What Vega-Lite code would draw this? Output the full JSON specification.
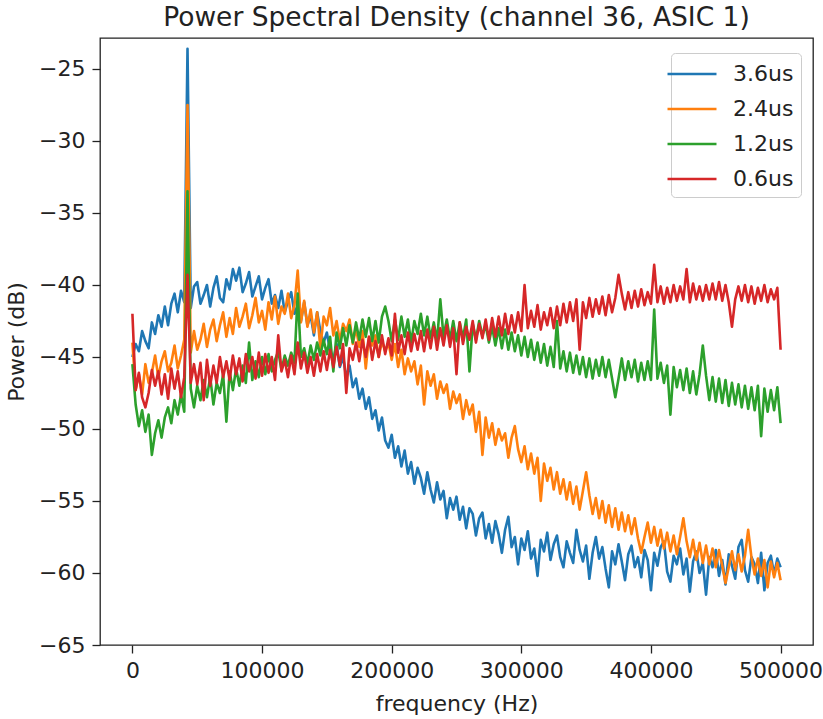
{
"$schema":"https://vega.github.io/schema/vega-lite/v6.json",
"width":713,"height":607,
"autosize":{"type":"none"},
"padding":{"left":100,"top":38,"right":10,"bottom":74},
"background":"white",
"config":{"font":"DejaVu Sans","view":{"stroke":"#222","strokeWidth":1.3}},
"title":{"text":"Power Spectral Density (channel 36, ASIC 1)","fontSize":26.5,"fontWeight":"normal","color":"#222","offset":7,"font":"DejaVu Sans"},
"datasets":{"psd":[
{"f":0,"a":-45.0,"b":-44.0,"c":-45.5,"d":-42.0},
{"f":2500,"a":-44.1,"b":-47.3,"c":-48.3,"d":-47.3},
{"f":5000,"a":-44.6,"b":-46.2,"c":-49.8,"d":-46.1},
{"f":7500,"a":-43.2,"b":-47.6,"c":-48.7,"d":-47.8},
{"f":10000,"a":-43.9,"b":-45.5,"c":-50.2,"d":-48.5},
{"f":12500,"a":-44.4,"b":-46.8,"c":-49.0,"d":-47.5},
{"f":15000,"a":-42.6,"b":-46.1,"c":-51.8,"d":-45.9},
{"f":17500,"a":-43.4,"b":-44.9,"c":-50.3,"d":-47.0},
{"f":20000,"a":-42.1,"b":-46.4,"c":-49.4,"d":-46.0},
{"f":22500,"a":-42.9,"b":-45.3,"c":-50.6,"d":-47.6},
{"f":25000,"a":-41.5,"b":-44.6,"c":-49.2,"d":-46.2},
{"f":27500,"a":-42.8,"b":-46.0,"c":-48.5,"d":-47.9},
{"f":30000,"a":-41.3,"b":-45.4,"c":-49.6,"d":-45.8},
{"f":32500,"a":-40.6,"b":-44.2,"c":-48.0,"d":-47.2},
{"f":35000,"a":-41.9,"b":-45.8,"c":-49.0,"d":-46.0},
{"f":37500,"a":-40.4,"b":-44.9,"c":-47.6,"d":-47.8},
{"f":40000,"a":-41.2,"b":-43.8,"c":-48.8,"d":-46.4},
{"f":42500,"a":-23.6,"b":-27.5,"c":-33.5,"d":-39.3},
{"f":45000,"a":-41.6,"b":-44.7,"c":-47.2,"d":-46.8},
{"f":47500,"a":-40.1,"b":-43.2,"c":-48.5,"d":-45.5},
{"f":50000,"a":-39.8,"b":-44.5,"c":-47.0,"d":-46.9},
{"f":52500,"a":-41.3,"b":-43.8,"c":-48.0,"d":-45.4},
{"f":55000,"a":-40.7,"b":-42.7,"c":-46.6,"d":-48.0},
{"f":57500,"a":-40.0,"b":-44.3,"c":-47.8,"d":-45.2},
{"f":60000,"a":-41.5,"b":-43.1,"c":-46.4,"d":-47.0},
{"f":62500,"a":-40.2,"b":-42.4,"c":-48.3,"d":-45.6},
{"f":65000,"a":-39.4,"b":-43.9,"c":-46.8,"d":-46.8},
{"f":67500,"a":-40.9,"b":-42.8,"c":-47.5,"d":-45.0},
{"f":70000,"a":-41.2,"b":-41.9,"c":-46.2,"d":-46.4},
{"f":72500,"a":-39.6,"b":-43.6,"c":-49.5,"d":-45.3},
{"f":75000,"a":-40.3,"b":-42.3,"c":-46.0,"d":-46.6},
{"f":77500,"a":-38.9,"b":-43.4,"c":-47.3,"d":-44.9},
{"f":80000,"a":-39.7,"b":-41.6,"c":-45.8,"d":-46.2},
{"f":82500,"a":-38.8,"b":-42.9,"c":-47.0,"d":-45.1},
{"f":85000,"a":-40.5,"b":-42.2,"c":-45.6,"d":-46.7},
{"f":87500,"a":-39.9,"b":-41.3,"c":-46.8,"d":-44.8},
{"f":90000,"a":-39.1,"b":-43.0,"c":-44.0,"d":-46.0},
{"f":92500,"a":-40.8,"b":-42.1,"c":-46.6,"d":-45.0},
{"f":95000,"a":-40.1,"b":-40.9,"c":-45.3,"d":-46.5},
{"f":97500,"a":-39.4,"b":-42.6,"c":-46.4,"d":-44.7},
{"f":100000,"a":-41.0,"b":-41.8,"c":-45.0,"d":-46.3},
{"f":102500,"a":-40.2,"b":-43.1,"c":-46.2,"d":-44.8},
{"f":105000,"a":-39.6,"b":-41.2,"c":-44.8,"d":-46.1},
{"f":107500,"a":-41.3,"b":-42.4,"c":-46.0,"d":-45.0},
{"f":110000,"a":-40.7,"b":-40.8,"c":-45.2,"d":-46.6},
{"f":112500,"a":-41.6,"b":-42.7,"c":-44.6,"d":-43.5},
{"f":115000,"a":-40.4,"b":-41.5,"c":-45.9,"d":-46.0},
{"f":117500,"a":-41.9,"b":-42.0,"c":-44.9,"d":-45.2},
{"f":120000,"a":-41.1,"b":-40.6,"c":-45.6,"d":-46.4},
{"f":122500,"a":-40.5,"b":-42.3,"c":-44.7,"d":-44.9},
{"f":125000,"a":-42.0,"b":-41.4,"c":-45.4,"d":-46.2},
{"f":127500,"a":-41.4,"b":-39.0,"c":-40.6,"d":-44.0},
{"f":130000,"a":-42.5,"b":-42.6,"c":-45.0,"d":-45.8},
{"f":132500,"a":-41.2,"b":-41.1,"c":-44.4,"d":-44.7},
{"f":135000,"a":-42.8,"b":-42.9,"c":-45.5,"d":-46.1},
{"f":137500,"a":-42.1,"b":-41.7,"c":-44.2,"d":-45.0},
{"f":140000,"a":-43.5,"b":-43.3,"c":-45.2,"d":-46.3},
{"f":142500,"a":-41.9,"b":-41.9,"c":-44.0,"d":-44.8},
{"f":145000,"a":-43.2,"b":-44.4,"c":-44.9,"d":-46.0},
{"f":147500,"a":-44.0,"b":-42.2,"c":-43.8,"d":-44.6},
{"f":150000,"a":-43.3,"b":-42.8,"c":-44.8,"d":-45.9},
{"f":152500,"a":-44.6,"b":-41.6,"c":-43.6,"d":-44.5},
{"f":155000,"a":-45.2,"b":-43.5,"c":-46.0,"d":-45.7},
{"f":157500,"a":-44.1,"b":-42.5,"c":-43.3,"d":-44.3},
{"f":160000,"a":-45.7,"b":-43.9,"c":-44.4,"d":-45.6},
{"f":162500,"a":-45.0,"b":-42.7,"c":-43.0,"d":-44.1},
{"f":165000,"a":-46.4,"b":-43.2,"c":-44.2,"d":-47.5},
{"f":167500,"a":-45.6,"b":-42.4,"c":-42.8,"d":-44.4},
{"f":170000,"a":-47.1,"b":-44.1,"c":-44.0,"d":-45.2},
{"f":172500,"a":-46.5,"b":-43.0,"c":-42.6,"d":-44.0},
{"f":175000,"a":-47.9,"b":-44.3,"c":-43.8,"d":-45.3},
{"f":177500,"a":-47.2,"b":-43.2,"c":-42.4,"d":-43.8},
{"f":180000,"a":-48.6,"b":-45.8,"c":-43.6,"d":-45.0},
{"f":182500,"a":-47.8,"b":-43.6,"c":-42.3,"d":-43.6},
{"f":185000,"a":-49.3,"b":-44.2,"c":-43.9,"d":-45.2},
{"f":187500,"a":-48.7,"b":-43.5,"c":-42.5,"d":-43.9},
{"f":190000,"a":-50.1,"b":-45.0,"c":-44.0,"d":-45.0},
{"f":192500,"a":-49.2,"b":-43.9,"c":-42.2,"d":-43.5},
{"f":195000,"a":-50.8,"b":-44.6,"c":-41.5,"d":-44.8},
{"f":197500,"a":-51.3,"b":-44.0,"c":-42.5,"d":-43.7},
{"f":200000,"a":-50.4,"b":-45.2,"c":-43.9,"d":-44.9},
{"f":202500,"a":-52.0,"b":-44.1,"c":-42.4,"d":-42.0},
{"f":205000,"a":-51.2,"b":-45.7,"c":-43.8,"d":-44.7},
{"f":207500,"a":-52.6,"b":-44.5,"c":-42.2,"d":-43.5},
{"f":210000,"a":-51.5,"b":-46.2,"c":-43.6,"d":-44.8},
{"f":212500,"a":-53.1,"b":-45.1,"c":-42.4,"d":-43.3},
{"f":215000,"a":-52.3,"b":-46.0,"c":-44.0,"d":-44.6},
{"f":217500,"a":-53.8,"b":-45.3,"c":-42.5,"d":-43.4},
{"f":220000,"a":-52.7,"b":-46.9,"c":-43.4,"d":-44.5},
{"f":222500,"a":-53.4,"b":-45.6,"c":-42.0,"d":-43.2},
{"f":225000,"a":-54.5,"b":-48.3,"c":-43.5,"d":-44.6},
{"f":227500,"a":-53.0,"b":-46.0,"c":-42.2,"d":-43.1},
{"f":230000,"a":-54.2,"b":-47.0,"c":-43.7,"d":-44.4},
{"f":232500,"a":-55.1,"b":-46.2,"c":-42.6,"d":-42.9},
{"f":235000,"a":-53.7,"b":-47.9,"c":-43.9,"d":-44.5},
{"f":237500,"a":-54.9,"b":-46.7,"c":-41.0,"d":-43.0},
{"f":240000,"a":-54.3,"b":-47.5,"c":-43.6,"d":-44.2},
{"f":242500,"a":-56.2,"b":-46.9,"c":-42.4,"d":-42.8},
{"f":245000,"a":-54.8,"b":-48.6,"c":-43.8,"d":-44.3},
{"f":247500,"a":-55.6,"b":-47.4,"c":-42.5,"d":-43.0},
{"f":250000,"a":-54.7,"b":-48.2,"c":-43.9,"d":-46.2},
{"f":252500,"a":-56.3,"b":-47.6,"c":-42.6,"d":-42.6},
{"f":255000,"a":-55.4,"b":-49.3,"c":-43.7,"d":-44.1},
{"f":257500,"a":-56.9,"b":-48.0,"c":-42.4,"d":-42.9},
{"f":260000,"a":-55.5,"b":-49.0,"c":-46.0,"d":-43.8},
{"f":262500,"a":-55.9,"b":-48.3,"c":-42.7,"d":-42.5},
{"f":265000,"a":-57.4,"b":-50.2,"c":-43.8,"d":-44.0},
{"f":267500,"a":-56.2,"b":-48.8,"c":-42.5,"d":-42.7},
{"f":270000,"a":-55.8,"b":-51.8,"c":-43.5,"d":-43.7},
{"f":272500,"a":-57.6,"b":-49.2,"c":-42.8,"d":-42.4},
{"f":275000,"a":-56.6,"b":-50.6,"c":-44.0,"d":-43.8},
{"f":277500,"a":-57.9,"b":-49.6,"c":-42.9,"d":-42.3},
{"f":280000,"a":-56.4,"b":-51.1,"c":-44.2,"d":-43.6},
{"f":282500,"a":-57.3,"b":-50.0,"c":-43.0,"d":-42.2},
{"f":285000,"a":-58.6,"b":-50.8,"c":-44.4,"d":-43.5},
{"f":287500,"a":-57.0,"b":-50.3,"c":-43.1,"d":-42.0},
{"f":290000,"a":-56.1,"b":-52.0,"c":-44.5,"d":-43.4},
{"f":292500,"a":-58.2,"b":-50.6,"c":-43.3,"d":-42.1},
{"f":295000,"a":-57.5,"b":-49.8,"c":-44.6,"d":-43.3},
{"f":297500,"a":-59.4,"b":-51.4,"c":-43.5,"d":-41.9},
{"f":300000,"a":-57.6,"b":-52.3,"c":-44.9,"d":-43.2},
{"f":302500,"a":-58.4,"b":-51.2,"c":-43.6,"d":-40.0},
{"f":305000,"a":-57.1,"b":-52.8,"c":-45.0,"d":-43.0},
{"f":307500,"a":-59.0,"b":-51.7,"c":-43.8,"d":-41.8},
{"f":310000,"a":-58.3,"b":-53.1,"c":-45.2,"d":-42.9},
{"f":312500,"a":-60.2,"b":-52.0,"c":-44.0,"d":-41.4},
{"f":315000,"a":-57.7,"b":-55.0,"c":-45.4,"d":-43.1},
{"f":317500,"a":-58.5,"b":-52.4,"c":-44.1,"d":-41.9},
{"f":320000,"a":-57.2,"b":-53.6,"c":-45.6,"d":-42.8},
{"f":322500,"a":-59.1,"b":-52.7,"c":-44.3,"d":-41.6},
{"f":325000,"a":-58.0,"b":-54.2,"c":-45.7,"d":-43.0},
{"f":327500,"a":-57.4,"b":-53.0,"c":-42.5,"d":-41.5},
{"f":330000,"a":-58.9,"b":-54.5,"c":-45.8,"d":-42.8},
{"f":332500,"a":-59.6,"b":-53.5,"c":-44.6,"d":-41.3},
{"f":335000,"a":-57.8,"b":-54.9,"c":-46.0,"d":-42.6},
{"f":337500,"a":-58.6,"b":-53.7,"c":-44.7,"d":-41.2},
{"f":340000,"a":-59.3,"b":-55.2,"c":-46.1,"d":-42.5},
{"f":342500,"a":-57.0,"b":-54.0,"c":-44.9,"d":-41.0},
{"f":345000,"a":-58.4,"b":-55.6,"c":-46.2,"d":-44.5},
{"f":347500,"a":-59.2,"b":-54.3,"c":-45.0,"d":-41.2},
{"f":350000,"a":-58.1,"b":-53.0,"c":-46.4,"d":-42.3},
{"f":352500,"a":-60.4,"b":-54.6,"c":-45.1,"d":-40.9},
{"f":355000,"a":-58.6,"b":-55.9,"c":-46.5,"d":-42.2},
{"f":357500,"a":-57.5,"b":-54.8,"c":-45.2,"d":-41.0},
{"f":360000,"a":-59.0,"b":-56.2,"c":-46.3,"d":-42.0},
{"f":362500,"a":-58.2,"b":-55.0,"c":-45.0,"d":-40.8},
{"f":365000,"a":-59.7,"b":-56.5,"c":-46.4,"d":-42.1},
{"f":367500,"a":-61.0,"b":-55.3,"c":-45.2,"d":-40.7},
{"f":370000,"a":-58.5,"b":-56.8,"c":-46.5,"d":-41.9},
{"f":372500,"a":-59.4,"b":-55.5,"c":-47.8,"d":-40.9},
{"f":375000,"a":-58.0,"b":-57.0,"c":-46.5,"d":-39.3},
{"f":377500,"a":-59.2,"b":-55.8,"c":-45.1,"d":-40.6},
{"f":380000,"a":-60.5,"b":-57.1,"c":-46.6,"d":-41.7},
{"f":382500,"a":-58.7,"b":-56.0,"c":-45.3,"d":-40.5},
{"f":385000,"a":-58.1,"b":-57.3,"c":-46.4,"d":-41.6},
{"f":387500,"a":-59.6,"b":-56.2,"c":-45.2,"d":-40.4},
{"f":390000,"a":-58.9,"b":-57.6,"c":-46.7,"d":-41.5},
{"f":392500,"a":-60.3,"b":-58.6,"c":-45.4,"d":-40.3},
{"f":395000,"a":-58.4,"b":-57.5,"c":-46.6,"d":-41.4},
{"f":397500,"a":-59.1,"b":-56.5,"c":-45.3,"d":-40.5},
{"f":400000,"a":-61.2,"b":-57.9,"c":-46.6,"d":-41.3},
{"f":402500,"a":-58.6,"b":-56.8,"c":-41.7,"d":-38.6},
{"f":405000,"a":-59.5,"b":-58.1,"c":-46.5,"d":-41.2},
{"f":407500,"a":-58.2,"b":-57.0,"c":-45.4,"d":-40.1},
{"f":410000,"a":-57.8,"b":-58.3,"c":-46.8,"d":-41.3},
{"f":412500,"a":-59.9,"b":-57.2,"c":-45.6,"d":-40.2},
{"f":415000,"a":-60.6,"b":-58.5,"c":-49.0,"d":-41.2},
{"f":417500,"a":-58.8,"b":-57.4,"c":-45.7,"d":-40.0},
{"f":420000,"a":-59.4,"b":-58.7,"c":-47.1,"d":-41.1},
{"f":422500,"a":-58.3,"b":-57.5,"c":-45.9,"d":-40.1},
{"f":425000,"a":-60.1,"b":-56.2,"c":-47.3,"d":-41.0},
{"f":427500,"a":-59.0,"b":-57.8,"c":-45.8,"d":-38.9},
{"f":430000,"a":-61.3,"b":-58.9,"c":-47.5,"d":-41.2},
{"f":432500,"a":-59.2,"b":-57.7,"c":-46.0,"d":-39.9},
{"f":435000,"a":-58.5,"b":-59.1,"c":-47.6,"d":-41.0},
{"f":437500,"a":-60.0,"b":-57.9,"c":-46.2,"d":-40.1},
{"f":440000,"a":-59.3,"b":-59.3,"c":-44.2,"d":-41.1},
{"f":442500,"a":-61.5,"b":-58.1,"c":-46.3,"d":-40.0},
{"f":445000,"a":-58.9,"b":-59.4,"c":-48.0,"d":-41.0},
{"f":447500,"a":-59.6,"b":-58.3,"c":-46.4,"d":-39.9},
{"f":450000,"a":-58.4,"b":-59.6,"c":-48.1,"d":-41.0},
{"f":452500,"a":-60.2,"b":-58.4,"c":-46.5,"d":-39.8},
{"f":455000,"a":-59.1,"b":-59.5,"c":-48.2,"d":-41.1},
{"f":457500,"a":-60.8,"b":-60.7,"c":-46.6,"d":-40.0},
{"f":460000,"a":-58.7,"b":-59.6,"c":-48.4,"d":-41.2},
{"f":462500,"a":-59.5,"b":-58.5,"c":-46.8,"d":-42.9},
{"f":465000,"a":-60.4,"b":-59.8,"c":-48.3,"d":-41.0},
{"f":467500,"a":-58.2,"b":-58.7,"c":-46.9,"d":-40.1},
{"f":470000,"a":-57.7,"b":-59.9,"c":-48.5,"d":-41.1},
{"f":472500,"a":-59.8,"b":-58.8,"c":-47.0,"d":-40.0},
{"f":475000,"a":-60.6,"b":-57.0,"c":-48.6,"d":-41.2},
{"f":477500,"a":-58.9,"b":-58.9,"c":-47.1,"d":-40.1},
{"f":480000,"a":-59.4,"b":-60.1,"c":-48.7,"d":-41.3},
{"f":482500,"a":-60.7,"b":-59.0,"c":-47.0,"d":-40.2},
{"f":485000,"a":-58.6,"b":-60.2,"c":-50.5,"d":-41.1},
{"f":487500,"a":-61.2,"b":-59.1,"c":-47.2,"d":-40.0},
{"f":490000,"a":-59.3,"b":-61.0,"c":-48.8,"d":-41.2},
{"f":492500,"a":-58.8,"b":-59.2,"c":-47.3,"d":-40.3},
{"f":495000,"a":-60.1,"b":-60.3,"c":-48.7,"d":-41.0},
{"f":497500,"a":-59.0,"b":-59.3,"c":-47.1,"d":-40.2},
{"f":500000,"a":-59.6,"b":-60.5,"c":-49.6,"d":-44.5}
]},
"data":{"name":"psd"},
"transform":[{"fold":["a","b","c","d"],"as":["s","p"]}],
"mark":{"type":"line","strokeWidth":2.6,"strokeJoin":"round"},
"encoding":{
"x":{"field":"f","type":"quantitative","scale":{"domain":[-25000,525000],"nice":false,"zero":false},
"axis":{"title":"frequency (Hz)","values":[0,100000,200000,300000,400000,500000],"format":"d","grid":false,"domain":false,"tickSize":8,"tickWidth":1.3,"tickColor":"#222","labelColor":"#222","labelFontSize":22,"labelPadding":7,"titleFontSize":22,"titleFontWeight":"normal","titleColor":"#222","titlePadding":12,"labelFont":"DejaVu Sans","titleFont":"DejaVu Sans"}},
"y":{"field":"p","type":"quantitative","scale":{"domain":[-65,-22.85],"nice":false,"zero":false},
"axis":{"title":"Power (dB)","values":[-65,-60,-55,-50,-45,-40,-35,-30,-25],"grid":false,"domain":false,"tickSize":8,"tickWidth":1.3,"tickColor":"#222","labelColor":"#222","labelFontSize":22,"labelPadding":7,"titleFontSize":22,"titleFontWeight":"normal","titleColor":"#222","titlePadding":10,"labelFont":"DejaVu Sans","titleFont":"DejaVu Sans"}},
"color":{"field":"s","type":"nominal","scale":{"domain":["a","b","c","d"],"range":["#1f77b4","#ff7f0e","#2ca02c","#d62728"]},
"legend":{"title":null,"orient":"none","legendX":571,"legendY":15,"symbolType":"M-2,0H2","symbolSize":600,"symbolStrokeWidth":2.6,"symbolFillColor":"transparent","labelFontSize":22,"labelFont":"DejaVu Sans","labelColor":"#222","labelOffset":27,"rowPadding":10,"padding":7,"strokeColor":"#ccc","fillColor":"white","cornerRadius":4,
"labelExpr":"datum.value == 'a' ? '3.6us' : datum.value == 'b' ? '2.4us' : datum.value == 'c' ? '1.2us' : '0.6us'"}}
}
}
